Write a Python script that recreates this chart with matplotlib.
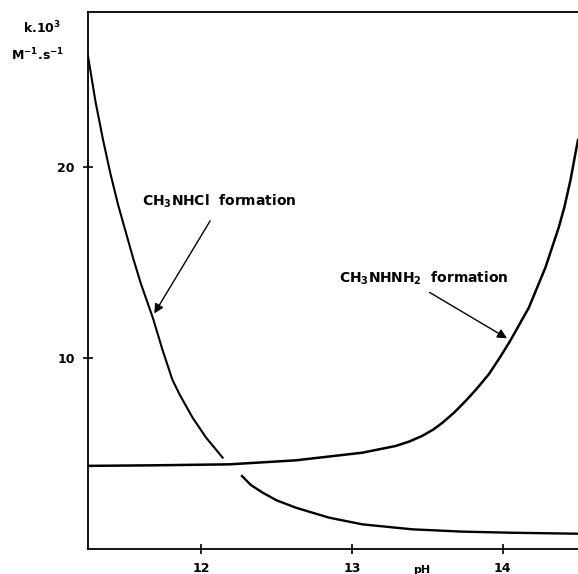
import matplotlib.pyplot as plt

# CH3NHCl formation (two pieces, gap near pH 12.2)
cl_ph_hi = [11.25, 11.30, 11.35, 11.40, 11.45, 11.50, 11.55, 11.60, 11.68,
            11.745, 11.81, 11.86, 11.944, 12.033, 12.143]
cl_k_hi = [25.8, 23.4, 21.4, 19.6, 18.0, 16.6, 15.2, 13.9, 12.1,
           10.4, 8.85, 8.05, 6.87, 5.83, 4.78]
cl_ph_lo = [12.271, 12.33, 12.408, 12.5, 12.629, 12.849, 13.07, 13.40, 13.73, 14.063, 14.5]
cl_k_lo = [3.82, 3.35, 2.95, 2.55, 2.16, 1.64, 1.29, 1.03, 0.91, 0.85, 0.80]

# CH3NHNH2 formation
hz_ph = [11.25, 11.7, 12.187, 12.629, 13.07, 13.29, 13.38, 13.467, 13.54, 13.6, 13.68,
         13.755, 13.83, 13.909, 13.98, 14.05, 14.174, 14.284, 14.372, 14.41, 14.45, 14.483, 14.5]
hz_k = [4.35, 4.38, 4.43, 4.64, 5.04, 5.39, 5.62, 5.92, 6.25, 6.6, 7.15,
        7.75, 8.4, 9.15, 10.0, 10.89, 12.63, 14.73, 16.82, 17.9, 19.3, 20.7, 21.4]

x_ticks = [12, 13, 14]
y_ticks = [10, 20]

plt.rcParams['font.family'] = ['DejaVu Sans']
plt.rcParams['font.weight'] = 'bold'
plt.rcParams['mathtext.default'] = 'bf'

fig = plt.figure(figsize=(5.78, 5.74), dpi=100)
ax = fig.add_axes([88 / 578, 25 / 574, 490 / 578, 537 / 574])

ax.plot(cl_ph_hi, cl_k_hi, color='black', lw=1.5)
ax.plot(cl_ph_lo, cl_k_lo, color='black', lw=1.7)
ax.plot(hz_ph, hz_k, color='black', lw=1.8)

ax.set_xlim(11.25, 14.5)
ax.set_ylim(0, 28.1)
ax.set_xticks(x_ticks)
ax.set_yticks(y_ticks)
ax.tick_params(direction='inout', length=7, width=1.2, labelsize=9, pad=6)
for lab in ax.get_xticklabels() + ax.get_yticklabels():
    lab.set_fontweight('bold')
ax.spines['right'].set_visible(False)
for s in ['left', 'bottom', 'top']:
    ax.spines[s].set_linewidth(1.3)

arrow = dict(arrowstyle='-|>', color='black', lw=1.0, mutation_scale=14)
ax.annotate('', xy=(11.68, 12.2), xytext=(12.07, 17.3), arrowprops=arrow)
ax.text(11.61, 17.95, 'CH$_3$NHCl  formation', fontsize=10, fontweight='bold',
        ha='left', va='baseline')
ax.annotate('', xy=(14.045, 10.95), xytext=(13.5, 13.5), arrowprops=arrow)
ax.text(12.915, 13.93, 'CH$_3$NHNH$_2$  formation', fontsize=10, fontweight='bold',
        ha='left', va='baseline')

fig.text(42 / 578, 1 - 28 / 574, 'k.10$^3$', fontsize=9, fontweight='bold',
         ha='center', va='center')
fig.text(38 / 578, 1 - 55 / 574, 'M$^{-1}$.s$^{-1}$', fontsize=9, fontweight='bold',
         ha='center', va='center')
fig.text(422 / 578, 1 - 570 / 574, 'pH', fontsize=8, fontweight='bold',
         ha='center', va='center')

fig.savefig('out.png', dpi=100)
